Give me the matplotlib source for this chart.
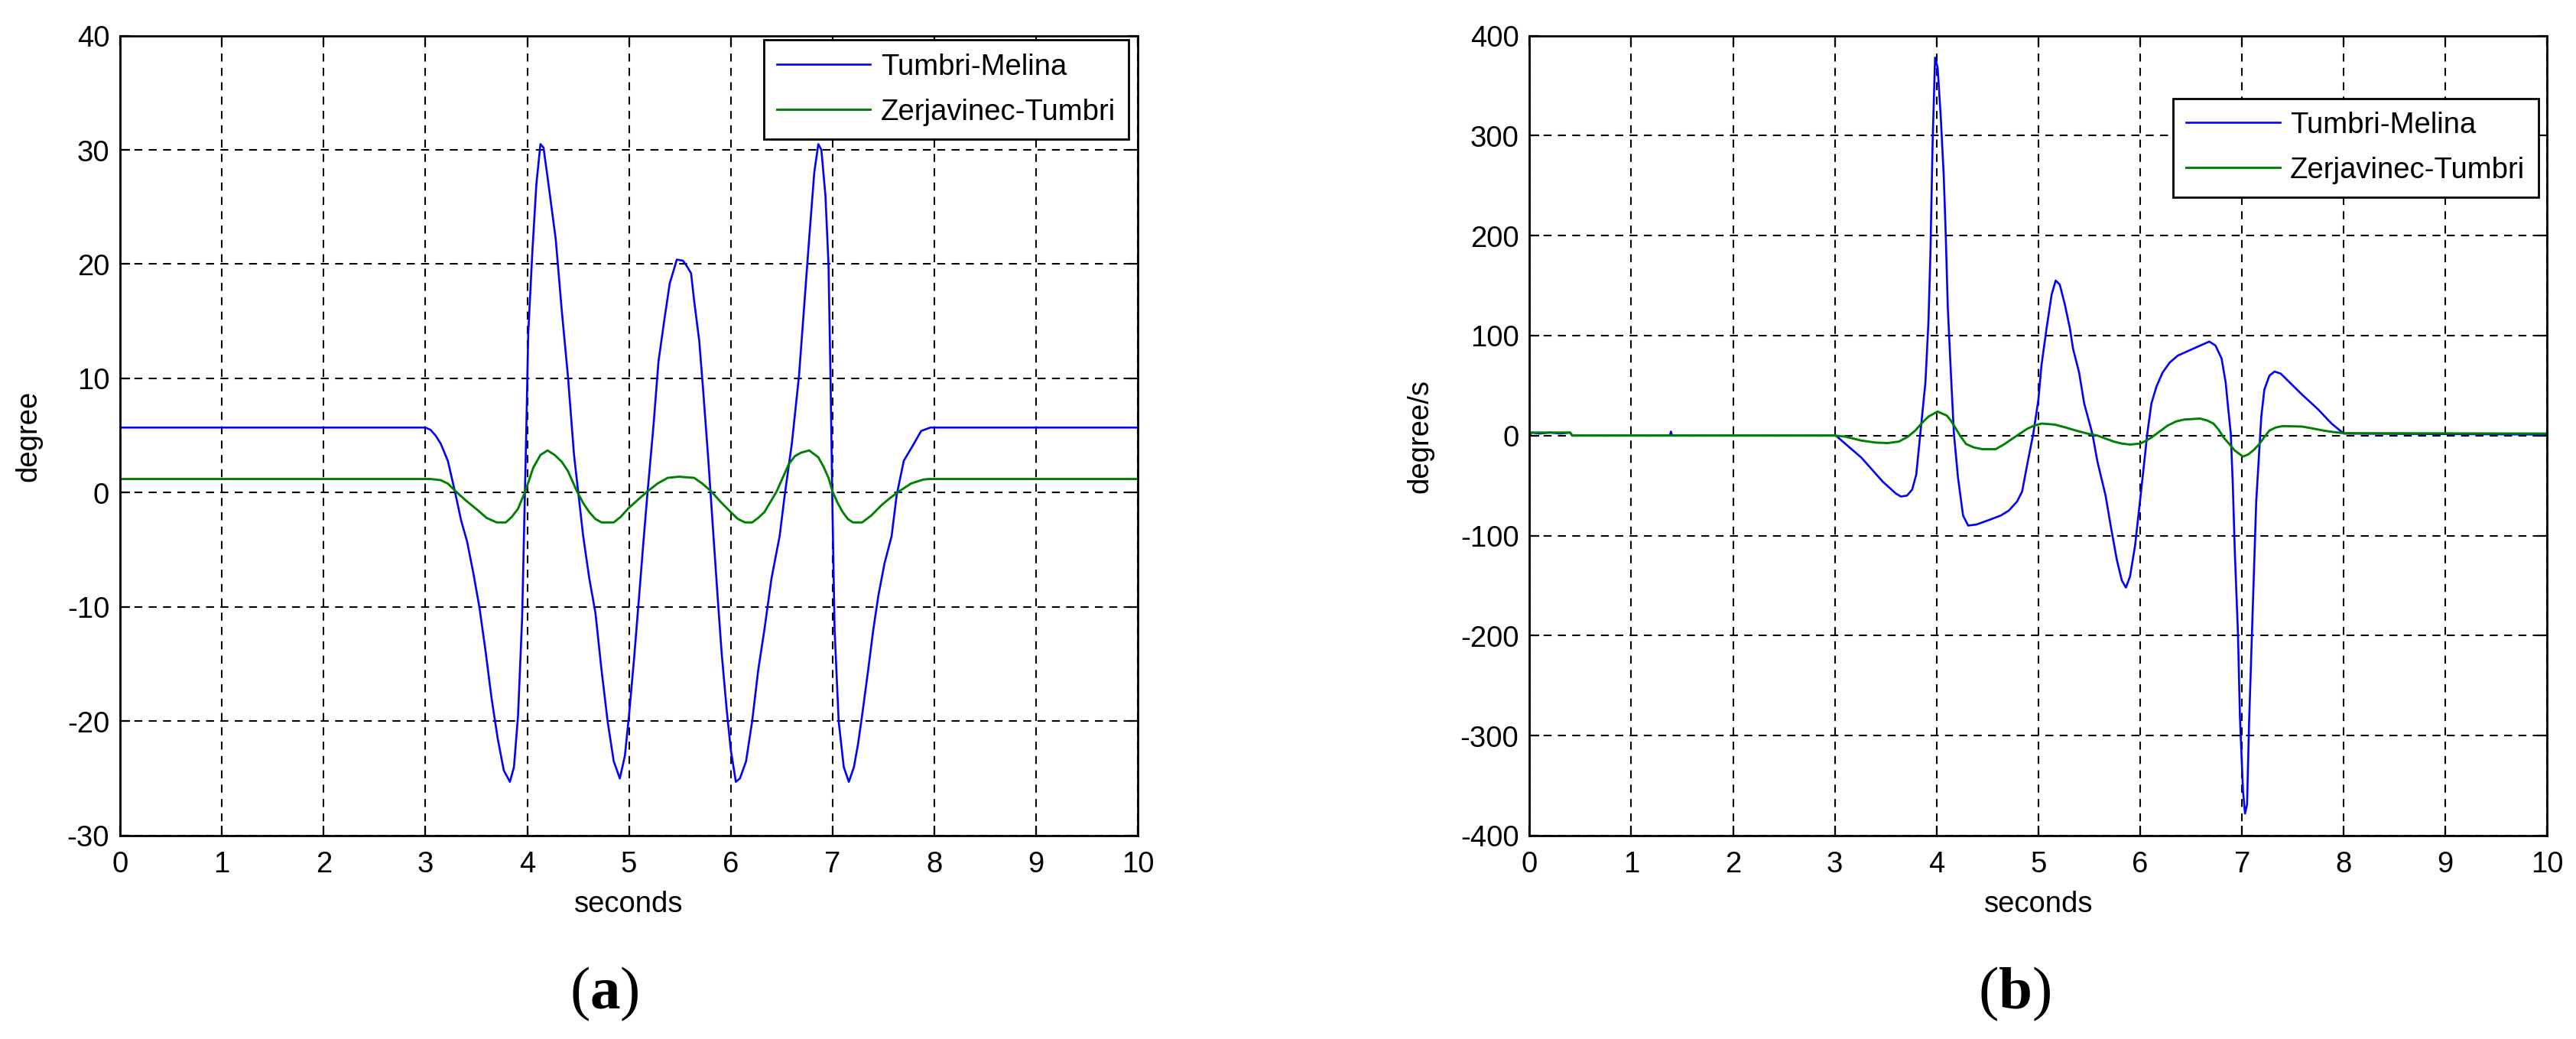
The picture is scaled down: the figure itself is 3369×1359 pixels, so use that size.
import matplotlib
matplotlib.use('Agg')
import matplotlib.pyplot as plt

# ---- data ----
# (a) angle difference, degree
t_a_tm = [0.0, 3.00, 3.05, 3.10, 3.15, 3.22, 3.29, 3.35, 3.41, 3.47, 3.53, 3.59, 3.65, 3.71, 3.77, 3.83,
          3.87, 3.91, 3.95, 3.97, 3.99, 4.01, 4.05, 4.09, 4.13, 4.16, 4.20, 4.28, 4.34, 4.40, 4.46, 4.55,
          4.61, 4.67, 4.73, 4.79, 4.85, 4.91, 4.96, 5.00, 5.05, 5.10, 5.14, 5.18, 5.24, 5.29, 5.35, 5.40,
          5.47, 5.53, 5.57, 5.61, 5.64, 5.69, 5.73, 5.78, 5.83, 5.87, 5.91, 5.96, 6.00, 6.05, 6.09, 6.15,
          6.21, 6.27, 6.33, 6.40, 6.48, 6.53, 6.60, 6.67, 6.72, 6.77, 6.82, 6.86, 6.89, 6.93, 6.96, 6.98,
          7.00, 7.02, 7.06, 7.11, 7.16, 7.21, 7.25, 7.29, 7.35, 7.40, 7.45, 7.51, 7.58, 7.63, 7.70, 7.80,
          7.87, 7.96, 10.0]
deg_a_tm = [5.7, 5.7, 5.5, 5.0, 4.3, 2.8, 0.1, -2.4, -4.3, -7.0, -10.0, -13.8, -18.0, -21.5, -24.3, -25.3,
            -24.0, -19.5, -11.0, -3.0, 5.0, 13.9, 21.0, 27.0, 30.5, 30.2, 27.6, 22.2, 15.9, 10.2, 3.3, -3.8,
            -7.5, -10.5, -15.5, -20.0, -23.5, -25.0, -23.0, -19.5, -14.5, -9.0, -4.5, -0.2, 5.8, 11.5, 15.3, 18.3,
            20.4, 20.3, 19.8, 19.2, 16.8, 13.3, 8.8, 2.8, -3.8, -9.0, -14.0, -19.0, -22.5, -25.3, -25.0, -23.5,
            -20.0, -15.5, -12.0, -7.5, -3.8, -0.2, 4.3, 10.2, 16.2, 22.2, 28.0, 30.5, 30.0, 26.0, 20.0, 10.0,
            -2.0, -12.0, -20.0, -24.0, -25.3, -24.0, -22.0, -19.5, -15.5, -12.0, -9.0, -6.2, -3.8, -0.2, 2.8, 4.3,
            5.4, 5.7, 5.7]

t_a_zt = [0.0, 3.05, 3.15, 3.22, 3.30, 3.40, 3.51, 3.60, 3.70, 3.79, 3.85, 3.91, 3.98, 4.06, 4.13, 4.20,
          4.27, 4.34, 4.40, 4.49, 4.55, 4.61, 4.67, 4.73, 4.85, 4.92, 4.99, 5.09, 5.18, 5.28, 5.38, 5.49,
          5.64, 5.72, 5.81, 5.90, 6.00, 6.07, 6.14, 6.21, 6.27, 6.33, 6.45, 6.51, 6.57, 6.63, 6.69, 6.77,
          6.86, 6.91, 6.96, 7.00, 7.05, 7.10, 7.15, 7.20, 7.29, 7.38, 7.48, 7.56, 7.65, 7.77, 7.89, 7.95, 10.0]
deg_a_zt = [1.2, 1.2, 1.1, 0.8, 0.1, -0.7, -1.5, -2.2, -2.6, -2.6, -2.1, -1.4, 0.1, 2.2, 3.3, 3.7,
            3.3, 2.7, 1.9, 0.1, -0.9, -1.7, -2.3, -2.6, -2.6, -2.1, -1.4, -0.6, 0.1, 0.8, 1.3, 1.4,
            1.3, 0.8, 0.1, -0.8, -1.7, -2.3, -2.6, -2.6, -2.2, -1.7, 0.1, 1.3, 2.5, 3.2, 3.5, 3.7,
            3.1, 2.3, 1.3, 0.1, -0.9, -1.7, -2.3, -2.6, -2.6, -2.0, -1.1, -0.5, 0.1, 0.8, 1.15, 1.2, 1.2]

# (b) angular velocity difference, degree/s
t_b_tm = [0.00, 0.02, 0.10, 0.20, 0.30, 0.40, 0.42, 1.38, 1.39, 1.40, 3.01, 3.26, 3.47, 3.60, 3.65, 3.71,
          3.76, 3.80, 3.84, 3.89, 3.92, 3.94, 3.96, 3.985, 4.01, 4.04, 4.07, 4.09, 4.11, 4.14, 4.17, 4.21,
          4.26, 4.31, 4.39, 4.50, 4.63, 4.71, 4.79, 4.84, 4.89, 4.95, 5.00, 5.03, 5.08, 5.13, 5.17, 5.21,
          5.26, 5.31, 5.34, 5.40, 5.45, 5.53, 5.58, 5.66, 5.71, 5.77, 5.82, 5.86, 5.90, 5.95, 5.99, 6.03,
          6.07, 6.11, 6.16, 6.22, 6.29, 6.37, 6.48, 6.59, 6.68, 6.74, 6.80, 6.84, 6.86, 6.89, 6.91, 6.93,
          6.96, 6.98, 7.01, 7.03, 7.05, 7.07, 7.10, 7.14, 7.19, 7.22, 7.27, 7.32, 7.38, 7.46, 7.59, 7.75,
          7.88, 8.00, 10.0]
dps_b_tm = [0, 3, 2, 3, 2, 3, 0, 0, 4, 0, 0, -22, -46, -58, -61, -60,
            -54, -39, 2, 53, 114, 185, 290, 378, 368, 320, 260, 200, 128, 63, 2, -42,
            -80, -90, -89, -85, -80, -75, -66, -56, -29, 2, 36, 70, 107, 141, 155, 151,
            131, 107, 87, 63, 32, 2, -26, -60, -90, -124, -145, -152, -141, -110, -73, -36,
            2, 32, 49, 63, 73, 80, 85, 90, 94, 90, 77, 53, 32, 2, -49, -117,
            -196, -281, -355, -378, -369, -287, -192, -66, 19, 46, 60, 64, 62, 54, 41, 26,
            12, 2, 1]

t_b_zt = [0.00, 0.02, 0.40, 0.42, 3.00, 3.10, 3.26, 3.40, 3.52, 3.63, 3.72, 3.79, 3.86, 3.92, 4.01, 4.10,
          4.14, 4.18, 4.23, 4.29, 4.37, 4.45, 4.58, 4.66, 4.74, 4.82, 4.89, 4.96, 5.03, 5.16, 5.27, 5.37,
          5.48, 5.58, 5.66, 5.74, 5.82, 5.90, 6.00, 6.06, 6.11, 6.19, 6.27, 6.35, 6.43, 6.59, 6.66, 6.72,
          6.77, 6.82, 6.88, 6.93, 7.01, 7.06, 7.12, 7.17, 7.22, 7.27, 7.33, 7.40, 7.59, 7.70, 7.80, 7.90,
          8.00, 10.0]
dps_b_zt = [0, 3, 3, 0, 0, -1, -5, -7, -7.5, -6, -1, 5, 13, 19, 24, 20,
            15, 8.5, 0, -8.5, -12, -13.6, -13.6, -9, -3.4, 2, 6.8, 10, 12, 11, 8, 5,
            2, 0, -3, -6, -8, -9, -8, -5, -2, 4, 10, 14, 16, 17, 15, 12,
            6, -2, -9, -15, -21, -19, -14, -8.5, -1.5, 5, 8, 9.5, 9, 7, 5, 3.5,
            2.4, 2]

series_names = ['Tumbri-Melina', 'Zerjavinec-Tumbri']
x_ticks = list(range(0, 11))
y_ticks_a = list(range(-30, 41, 10))
y_ticks_b = list(range(-400, 401, 100))

# ---- style ----
plt.rcParams['font.family'] = ['Liberation Sans', 'DejaVu Sans']
plt.rcParams['font.size'] = 27.5
plt.rcParams['axes.unicode_minus'] = False
plt.rcParams['mathtext.fontset'] = 'custom'
plt.rcParams['mathtext.bf'] = 'Liberation Serif:bold'

W, H = 3369.0, 1359.0
fig = plt.figure(figsize=(33.695, 13.595), dpi=100)

def make_axes(left_px, ylim, yticks, ylabel, ylab_x):
  ax = fig.add_axes([left_px / W, 1 - 1093 / H, 1331 / W, 1046 / H])
  ax.set_xlim(0, 10)
  ax.set_ylim(*ylim)
  ax.set_xticks(x_ticks)
  ax.set_yticks(yticks)
  ax.grid(True, color='k', linestyle=(0, (5, 4)), linewidth=1.5)
  ax.tick_params(direction='in', length=9.5, width=1.6, top=True, right=True, labelsize=27.5)
  ax.tick_params(axis='x', pad=14)
  ax.tick_params(axis='y', pad=10)
  for sp in ax.spines.values():
    sp.set_linewidth(2.0)
  ax.set_xlabel('seconds')
  ax.xaxis.set_label_coords(0.5, -0.068)
  ax.set_ylabel(ylabel)
  ax.yaxis.set_label_coords(ylab_x, 0.5)
  return ax

ax1 = make_axes(157, (-30, 40), y_ticks_a, 'degree', -0.076)
ax1.plot(t_a_tm, deg_a_tm, color='#0000ff', lw=1.9, label=series_names[0])
ax1.plot(t_a_zt, deg_a_zt, color='#008000', lw=2.1, label=series_names[1])

ax2 = make_axes(2000, (-400, 400), y_ticks_b, 'degree/s', -0.094)
ax2.plot(t_b_tm, dps_b_tm, color='#0000ff', lw=1.9, label=series_names[0])
ax2.plot(t_b_zt, dps_b_zt, color='#008000', lw=2.1, label=series_names[1])

for ax, top in [(ax1, 0.9943), (ax2, 0.9216)]:
  leg = ax.legend(loc='upper right', bbox_to_anchor=(0.991, top), borderaxespad=0,
                  fancybox=False, framealpha=1, edgecolor='k', handlelength=3.2,
                  handletextpad=0.35, borderpad=0.45, labelspacing=0.6, fontsize=27.5)
  leg.get_frame().set_linewidth(2.0)

# panel captions
fig.text(790 / W, 1 - 1300 / H, r'($\mathbf{a}$)', family='Liberation Serif', fontsize=57,
         ha='center', va='center')
fig.text(2634 / W, 1 - 1300 / H, r'($\mathbf{b}$)', family='Liberation Serif', fontsize=57,
         ha='center', va='center')

fig.savefig('out.png', dpi=100)
